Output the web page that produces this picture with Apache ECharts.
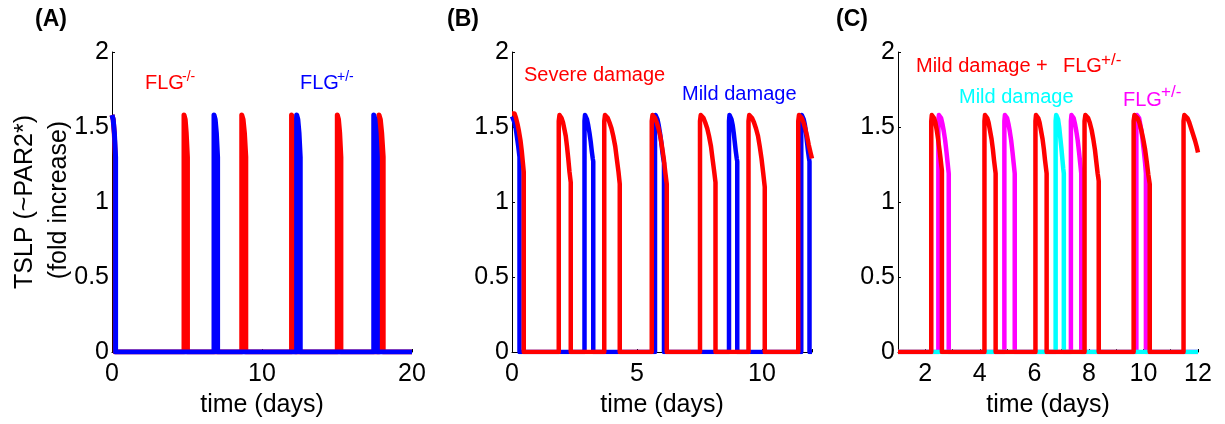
<!DOCTYPE html>
<html>
<head>
<meta charset="utf-8">
<script src="https://cdn.jsdelivr.net/npm/echarts@6/dist/echarts.min.js"></script>
<style>
  html, body { margin: 0; padding: 0; background: #fff; }
  #chart { width: 1225px; height: 424px; }
</style>
</head>
<body>
<div id="chart"></div>
<script>
// TSLP response pulses, [time (days), fold increase]

// (A) FLG-/- versus FLG+/-
const flgKO = [
  [0,1.58],[0.08,1.55],[0.15,1.46],[0.22,1.3],[0.22,0],
  [4.8,0],[4.8,1.58],[4.88,1.55],[4.95,1.46],[5.03,1.3],[5.03,0],
  [8.65,0],[8.65,1.58],[8.74,1.55],[8.83,1.46],[8.92,1.3],[8.92,0],
  [11.97,0],[11.97,1.58],[12.05,1.55],[12.13,1.46],[12.21,1.3],[12.21,0],
  [15.02,0],[15.02,1.58],[15.1,1.55],[15.18,1.46],[15.26,1.3],[15.26,0],
  [17.8,0],[17.8,1.58],[17.89,1.55],[17.98,1.46],[18.08,1.3],[18.08,0],
  [20,0]
];
const flgHet = [
  [0,1.58],[0.08,1.55],[0.16,1.46],[0.24,1.3],[0.24,0],
  [6.8,0],[6.8,1.58],[6.88,1.55],[6.96,1.46],[7.04,1.3],[7.04,0],
  [12.31,0],[12.31,1.58],[12.39,1.55],[12.47,1.46],[12.55,1.3],[12.55,0],
  [17.45,0],[17.45,1.58],[17.53,1.55],[17.61,1.46],[17.69,1.3],[17.69,0],
  [20,0]
];

// (B) severe versus mild barrier damage
const severeDamage = [
  [0,1.59],[0.04,1.6],[0.1,1.59],[0.16,1.56],[0.22,1.52],[0.28,1.47],[0.34,1.41],[0.39,1.34],[0.43,1.27],[0.47,1.2],[0.47,0],
  [1.87,0],[1.87,1.54],[1.9,1.58],[1.93,1.58],[1.98,1.56],[2.04,1.53],[2.09,1.49],[2.15,1.44],[2.2,1.37],[2.25,1.29],[2.3,1.2],[2.35,1.13],[2.35,0],
  [3.69,0],[3.69,1.54],[3.72,1.58],[3.76,1.58],[3.83,1.56],[3.9,1.53],[3.98,1.49],[4.05,1.44],[4.13,1.37],[4.19,1.29],[4.26,1.2],[4.31,1.12],[4.31,0],
  [5.59,0],[5.59,1.54],[5.62,1.58],[5.66,1.58],[5.72,1.56],[5.79,1.53],[5.86,1.49],[5.93,1.44],[6.0,1.37],[6.07,1.29],[6.13,1.2],[6.19,1.12],[6.19,0],
  [7.52,0],[7.52,1.54],[7.55,1.58],[7.59,1.58],[7.66,1.56],[7.73,1.53],[7.81,1.49],[7.88,1.44],[7.96,1.37],[8.02,1.29],[8.09,1.2],[8.14,1.13],[8.14,0],
  [9.46,0],[9.46,1.54],[9.49,1.58],[9.53,1.58],[9.6,1.56],[9.68,1.53],[9.76,1.49],[9.84,1.44],[9.91,1.37],[9.98,1.29],[10.05,1.19],[10.11,1.1],[10.11,0],
  [11.45,0],[11.45,1.54],[11.48,1.58],[11.52,1.58],[11.59,1.56],[11.66,1.53],[11.73,1.49],[11.8,1.44],[11.87,1.38],[11.94,1.33],[12,1.29]
];
const mildDamage = [
  [0,1.57],[0.05,1.56],[0.1,1.53],[0.15,1.49],[0.2,1.43],[0.25,1.37],[0.3,1.3],[0.3,0],
  [2.9,0],[2.9,1.54],[2.92,1.58],[2.95,1.58],[3.0,1.55],[3.05,1.51],[3.1,1.46],[3.15,1.4],[3.19,1.34],[3.23,1.29],[3.25,1.27],[3.25,0],
  [5.72,0],[5.72,1.54],[5.74,1.58],[5.77,1.58],[5.82,1.55],[5.87,1.51],[5.92,1.46],[5.97,1.4],[6.01,1.34],[6.05,1.29],[6.08,1.26],[6.08,0],
  [8.68,0],[8.68,1.54],[8.7,1.58],[8.73,1.58],[8.78,1.55],[8.83,1.51],[8.87,1.46],[8.91,1.4],[8.95,1.34],[8.99,1.29],[9.01,1.27],[9.01,0],
  [11.57,0],[11.57,1.54],[11.59,1.58],[11.62,1.58],[11.67,1.55],[11.72,1.51],[11.76,1.46],[11.8,1.4],[11.84,1.34],[11.88,1.29],[11.9,1.27],[11.9,0],
  [12,0]
];

// (C) mild damage combined with FLG+/-
const mildPlusFlg = [
  [1,0],
  [2.22,0],[2.22,1.54],[2.24,1.58],[2.27,1.58],[2.32,1.56],[2.37,1.53],[2.42,1.48],[2.47,1.42],[2.52,1.35],[2.56,1.29],[2.59,1.24],[2.61,1.21],[2.61,0],
  [4.17,0],[4.17,1.54],[4.19,1.58],[4.22,1.58],[4.27,1.56],[4.32,1.53],[4.37,1.48],[4.43,1.42],[4.48,1.35],[4.52,1.28],[4.56,1.22],[4.58,1.19],[4.58,0],
  [6.04,0],[6.04,1.54],[6.06,1.58],[6.09,1.58],[6.14,1.56],[6.19,1.53],[6.24,1.48],[6.3,1.42],[6.35,1.35],[6.39,1.28],[6.43,1.22],[6.45,1.19],[6.45,0],
  [7.84,0],[7.84,1.54],[7.87,1.58],[7.91,1.58],[7.97,1.56],[8.03,1.53],[8.1,1.48],[8.16,1.42],[8.22,1.35],[8.27,1.27],[8.32,1.19],[8.36,1.14],[8.36,0],
  [9.64,0],[9.64,1.54],[9.67,1.58],[9.71,1.58],[9.78,1.56],[9.85,1.53],[9.92,1.48],[9.99,1.42],[10.06,1.35],[10.12,1.27],[10.18,1.18],[10.23,1.12],[10.23,0],
  [11.47,0],[11.47,1.54],[11.5,1.58],[11.54,1.58],[11.61,1.56],[11.68,1.53],[11.75,1.49],[11.82,1.45],[11.89,1.41],[11.95,1.37],[12,1.33]
];
const flgHetC = [
  [1,0],
  [2.48,0],[2.48,1.54],[2.5,1.58],[2.53,1.58],[2.58,1.56],[2.63,1.52],[2.68,1.47],[2.73,1.41],[2.78,1.33],[2.82,1.26],[2.86,1.19],[2.86,0],
  [4.9,0],[4.9,1.54],[4.92,1.58],[4.95,1.58],[5.0,1.56],[5.05,1.52],[5.1,1.47],[5.15,1.41],[5.2,1.33],[5.24,1.26],[5.28,1.19],[5.28,0],
  [7.34,0],[7.34,1.54],[7.36,1.58],[7.39,1.58],[7.44,1.56],[7.49,1.52],[7.54,1.47],[7.59,1.41],[7.64,1.33],[7.68,1.26],[7.72,1.19],[7.72,0],
  [9.74,0],[9.74,1.54],[9.76,1.58],[9.79,1.58],[9.84,1.56],[9.88,1.52],[9.93,1.47],[9.97,1.41],[10.02,1.33],[10.06,1.26],[10.09,1.19],[10.09,0],
  [12,0]
];
const mildDamageC = [
  [1,0],
  [6.78,0],[6.78,1.54],[6.8,1.58],[6.83,1.58],[6.87,1.55],[6.91,1.5],[6.95,1.43],[6.99,1.36],[7.03,1.28],[7.06,1.22],[7.08,1.19],[7.08,0],
  [12,0]
];

// axis ranges and labelled tick steps per panel
const xRanges = [[0, 20, 10], [0, 12, 5], [1, 12, 2]];
const yTicks = [0, 0.5, 1, 1.5, 2];

const FONT = "'Liberation Sans', Arial, Helvetica, sans-serif";
const RED = '#ff0000', BLUE = '#0000ff', MAGENTA = '#ff00ff', CYAN = '#00ffff';
const gridLefts = [112, 512, 898];
const AXIS_FONT = 25;

const chart = echarts.init(document.getElementById('chart'), null, { renderer: 'canvas' });

const grids = gridLefts.map(l => ({ left: l, top: 52, width: 300, height: 300 }));

const xAxes = xRanges.map((r, i) => ({
  type: 'value', gridIndex: i, min: r[0], max: r[1],
  interval: i === 2 ? 1 : r[2],
  name: 'time (days)', nameLocation: 'middle', nameGap: 41,
  nameTextStyle: { fontFamily: FONT, fontSize: AXIS_FONT, color: '#000' },
  axisLine: { show: true, onZero: false, lineStyle: { color: '#000', width: 1 } },
  axisTick: { show: true, inside: true, length: 3, lineStyle: { color: '#000' } },
  axisLabel: {
    fontFamily: FONT, fontSize: AXIS_FONT, color: '#000', margin: 10,
    formatter: v => (Math.abs(v / r[2] - Math.round(v / r[2])) < 1e-9 ? String(v) : '')
  },
  splitLine: { show: false }
}));

const yAxes = [0, 1, 2].map(i => ({
  type: 'value', gridIndex: i, min: 0, max: 2, interval: 0.5,
  axisLine: { show: true, lineStyle: { color: '#000', width: 1 } },
  axisTick: { show: true, inside: true, length: 3, lineStyle: { color: '#000' } },
  axisLabel: {
    fontFamily: FONT, fontSize: AXIS_FONT, color: '#000', margin: 3,
    formatter: v => (yTicks.indexOf(v) >= 0 ? String(v) : '')
  },
  splitLine: { show: false }
}));

function line(data, color, idx, width) {
  return {
    type: 'line', data: data, xAxisIndex: idx, yAxisIndex: idx,
    showSymbol: false, symbol: 'none', silent: true, animation: false,
    lineStyle: { color: color, width: width, join: 'round', cap: 'butt' }
  };
}

function txt(x, y, text, color, size, bold) {
  return {
    type: 'text', x: x, y: y, silent: true,
    style: {
      text: text, fill: color, fontFamily: FONT, fontSize: size || 20,
      fontWeight: bold ? 'bold' : 'normal', align: 'left', verticalAlign: 'middle'
    }
  };
}

const graphics = [
  txt(35, 20, '(A)', '#000', 23, true),
  txt(447, 20, '(B)', '#000', 23, true),
  txt(836, 20, '(C)', '#000', 23, true),
  {
    type: 'text', x: 25, y: 202, rotation: Math.PI / 2, silent: true,
    style: { text: 'TSLP (~PAR2*)', fill: '#000', fontFamily: FONT, fontSize: AXIS_FONT, align: 'center', verticalAlign: 'middle' }
  },
  {
    type: 'text', x: 59, y: 200, rotation: Math.PI / 2, silent: true,
    style: { text: '(fold increase)', fill: '#000', fontFamily: FONT, fontSize: AXIS_FONT, align: 'center', verticalAlign: 'middle' }
  },
  // panel A labels
  txt(145, 83, 'FLG', RED), txt(182, 77, '-/-', RED, 14),
  txt(300, 83, 'FLG', BLUE), txt(337, 77, '+/-', BLUE, 14),
  // panel B labels
  txt(524, 75, 'Severe damage', RED),
  txt(682, 94, 'Mild damage', BLUE),
  // panel C labels
  txt(916, 66, 'Mild damage +', RED), txt(1063, 66, 'FLG', RED), txt(1101, 60, '+/-', RED, 17),
  txt(959, 97, 'Mild damage', CYAN),
  txt(1123, 100, 'FLG', MAGENTA), txt(1161, 92, '+/-', MAGENTA, 17)
];

chart.setOption({
  backgroundColor: '#fff',
  animation: false,
  grid: grids,
  xAxis: xAxes,
  yAxis: yAxes,
  series: [
    line(flgKO, RED, 0, 5),
    line(flgHet, BLUE, 0, 5),
    line(mildDamage, BLUE, 1, 4.5),
    line(severeDamage, RED, 1, 4.5),
    line(flgHetC, MAGENTA, 2, 4.5),
    line(mildDamageC, CYAN, 2, 4.5),
    line(mildPlusFlg, RED, 2, 4.5)
  ],
  graphic: graphics
});
</script>
</body>
</html>
